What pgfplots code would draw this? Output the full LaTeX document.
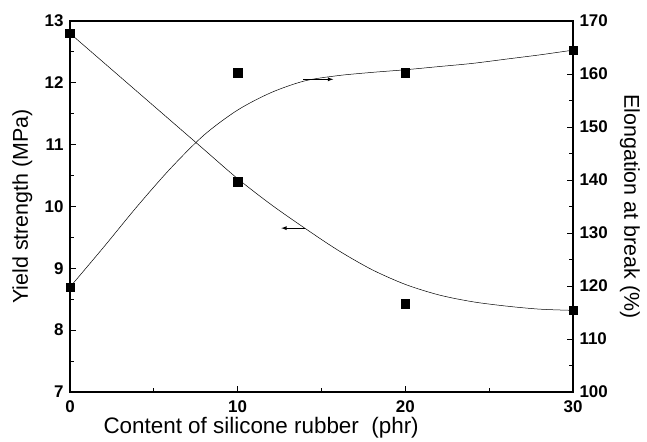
\documentclass[border=0pt]{standalone}
\usepackage{pgfplots}
\pgfplotsset{compat=1.18}
\usetikzlibrary{calc}
\usepackage{fontspec}
\setmainfont{Liberation Sans}

\pgfplotsset{
  common/.style={
    scale only axis, width=503bp, height=371bp,
    xmin=0, xmax=30,
    tick align=inside,
    major tick length=6bp, minor tick length=4bp,
    every tick/.style={black, line width=1pt},
    axis line style={line width=1.3pt},
    /pgf/number format/assume math mode=true,
    ticklabel style={font=\fontsize{17}{20}\selectfont\bfseries},
    label style={font=\fontsize{21.5}{24}\selectfont},
  }
}

\begin{document}
\begin{tikzpicture}
\begin{axis}[common, name=ax,
    ymin=7, ymax=13,
    xtick={0,10,20,30}, minor x tick num=1,
    ytick={7,8,...,13}, minor y tick num=1,
    xtick pos=left, ytick pos=left,
    xticklabel style={yshift=-5bp},
    yticklabel style={xshift=-3bp},
    xlabel={Content of silicone rubber\ \ (phr)},
    ylabel={Yield strength (MPa)},
    xlabel style={at={(axis description cs:0.38,-0.097)}, anchor=center,
                  font=\fontsize{22.5}{25}\selectfont},
    ylabel style={at={(axis description cs:-0.095,0.5)}, anchor=center},
]
% fitted curve
\addplot[smooth, black, line width=0.5pt] coordinates {
  (0,12.8) (2,12.33) (4,11.86) (6,11.39) (8,10.92) (10,10.45)
  (12,10.03) (14,9.65) (16,9.29) (18,8.98) (20,8.74) (22,8.57)
  (24,8.46) (26,8.39) (28,8.34) (30,8.32)
};
\addplot[only marks, mark=square*, mark size=4.3bp, black] coordinates {
  (0,12.8) (10,10.4) (20,8.43) (30,8.32)
};
\draw[-latex, line width=0.9pt] (axis cs:14,9.65) -- (axis cs:12.6,9.65);
\end{axis}

\begin{axis}[common,
    ymin=100, ymax=170,
    axis x line=none,
    axis y line*=right,
    ytick={100,110,...,170}, minor y tick num=1,
    yticklabel style={xshift=3bp},
    ylabel={Elongation at break (\%)},
    ylabel style={at={(axis description cs:1.113,0.5)}, anchor=center, rotate=180},
]
\addplot[smooth, black, line width=0.5pt] coordinates {
  (0,119.8) (2,127.3) (4,135) (6,142.2) (8,148.5) (10,153.2)
  (12,156.5) (14,158.7) (16,159.7) (18,160.3) (20,160.8) (22,161.4)
  (24,162.0) (26,162.8) (28,163.6) (30,164.5)
};
\addplot[only marks, mark=square*, mark size=4.3bp, black] coordinates {
  (0,119.8) (10,160.2) (20,160.2) (30,164.5)
};
\draw[-latex, line width=0.9pt] (axis cs:13.9,159) -- (axis cs:15.7,159);
\end{axis}
\pgfresetboundingbox
\path[use as bounding box] ($(ax.south west)+(-70bp,-50bp)$) rectangle ($(ax.north east)+(74bp,21bp)$);
\end{tikzpicture}
\end{document}
